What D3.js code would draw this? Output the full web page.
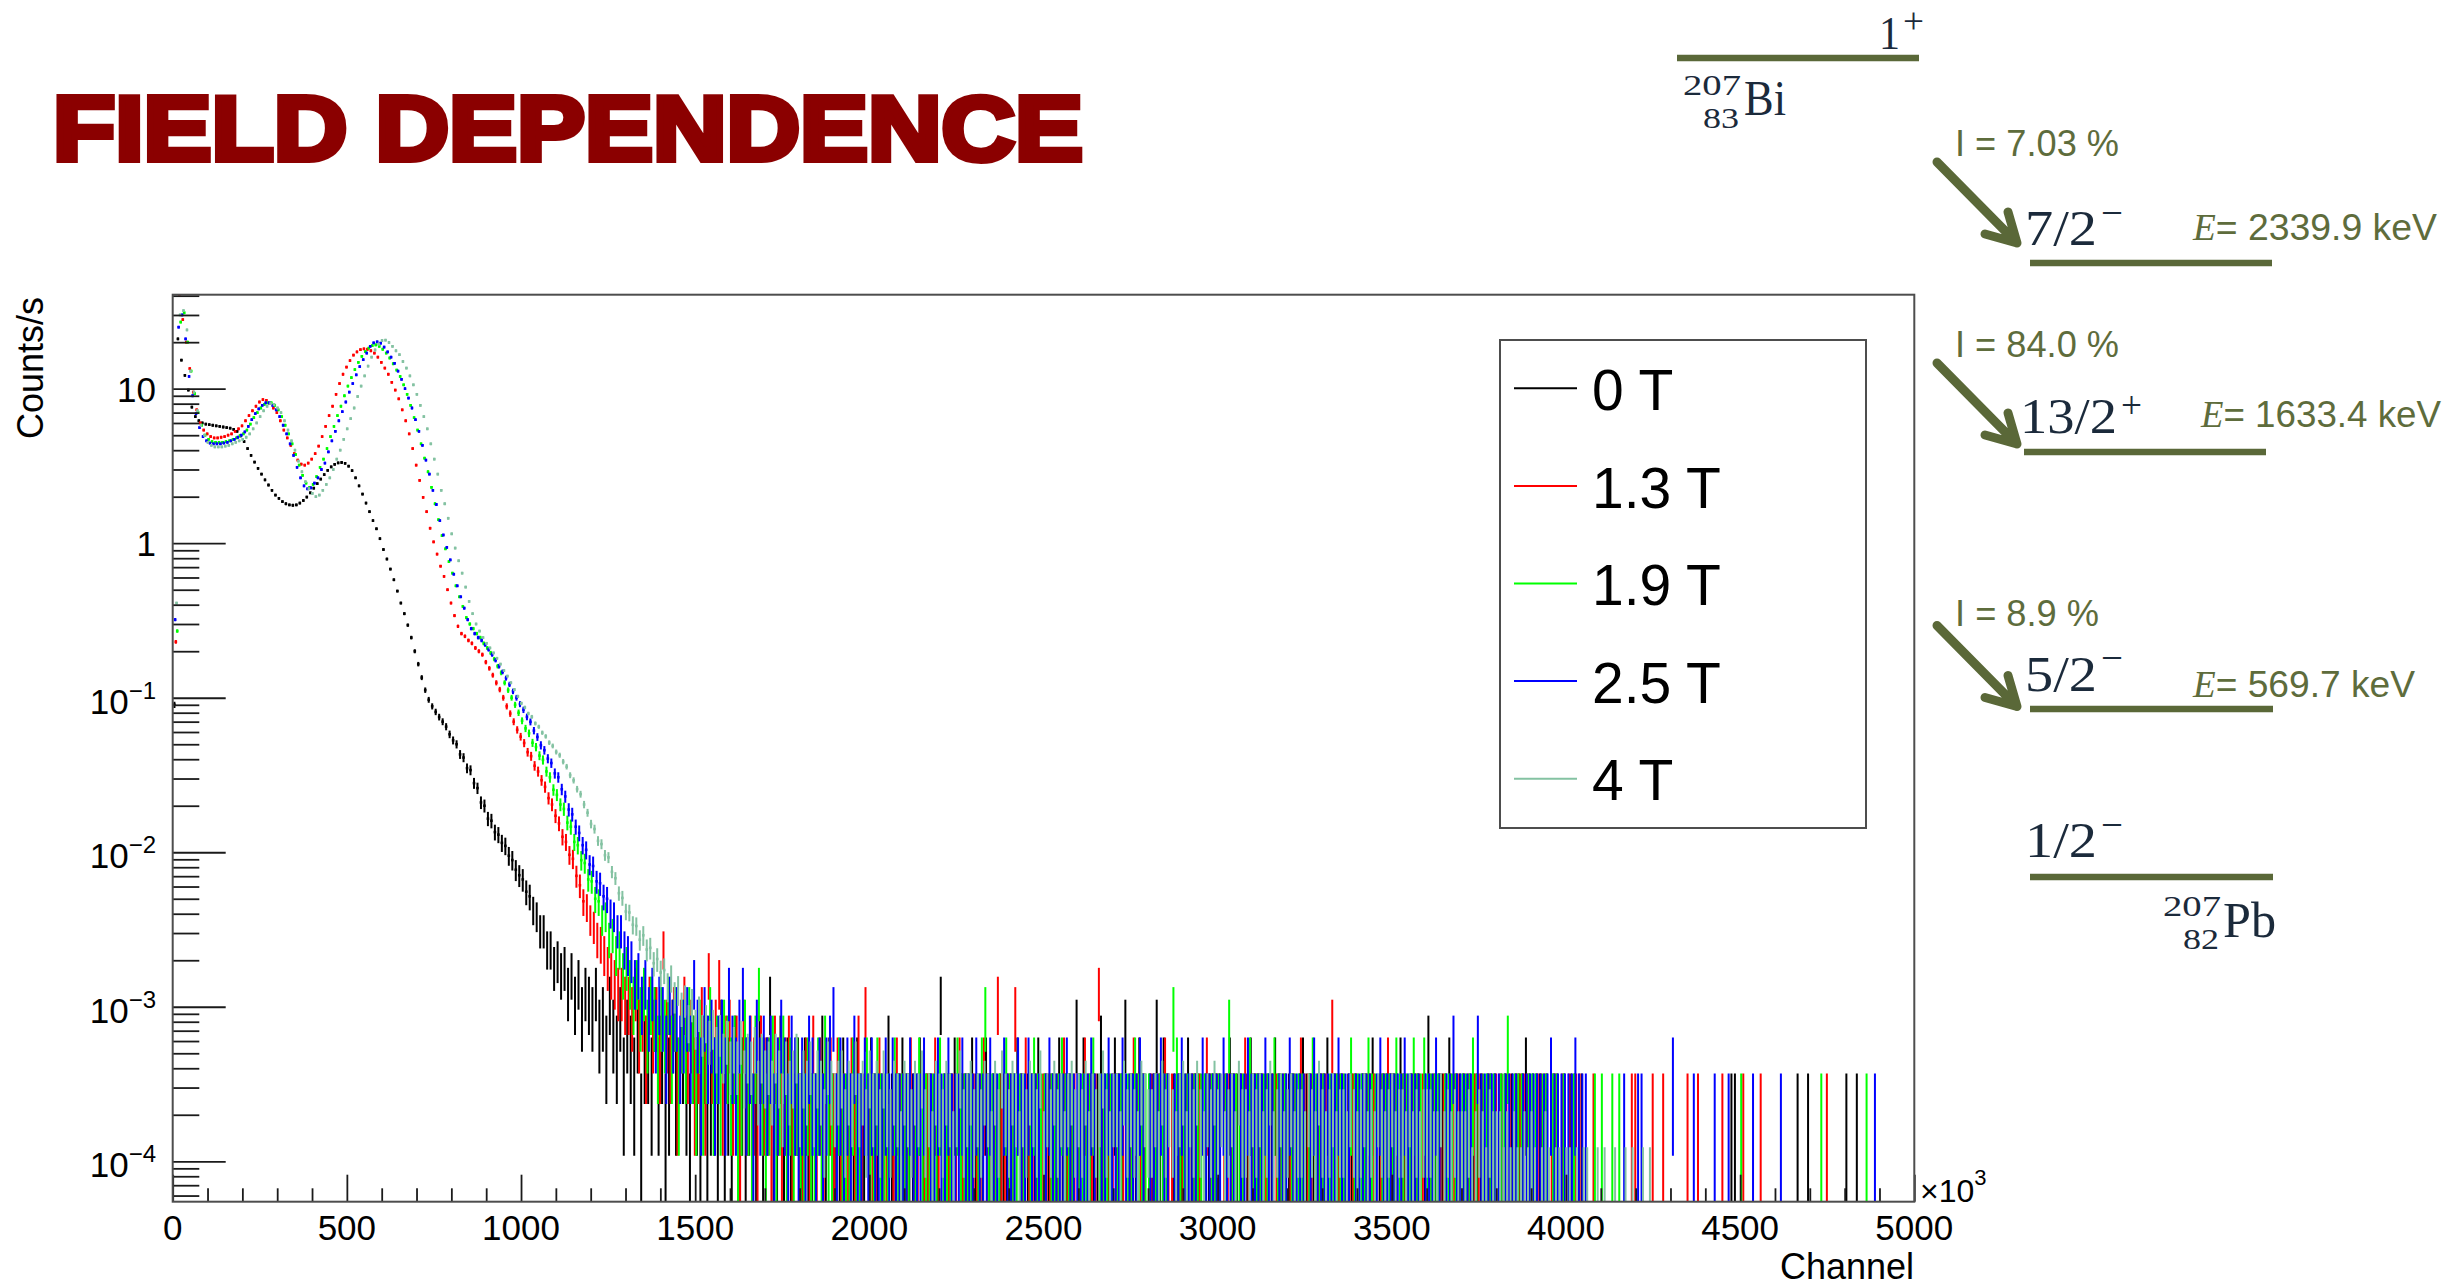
<!DOCTYPE html>
<html><head><meta charset="utf-8">
<script src="https://cdn.jsdelivr.net/npm/d3@7/dist/d3.min.js"></script>
<style>
html,body{margin:0;padding:0;background:#fff;}
svg{display:block;}
</style></head>
<body>
<svg id="chart" width="2450" height="1287" xmlns="http://www.w3.org/2000/svg"></svg>
<script>
// ================= DATA =================
const titleText = "FIELD DEPENDENCE";
const seriesNames = ["0 T","1.3 T","1.9 T","2.5 T","4 T"];
const binChannels = 10;                       // channels per histogram bin
const binOffsetChannels = [0, 4, 8, 2, 6];    // first bin lower edge of each spectrum
const liveTimeSeconds = [5400,5400,5400,5400,16200]; // counts -> counts/s
const xTickValues = [0,500,1000,1500,2000,2500,3000,3500,4000,4500,5000];
const yTickValues = [1e-4,1e-3,1e-2,1e-1,1,10];
const yTickBase = ["10","10","10","10","1","10"];
const yTickExp  = ["\u22124","\u22123","\u22122","\u22121","",""];
const xAxisTitle = "Channel";
const yAxisTitle = "Counts/s";
const xAxisMultiplier = ["\u00d710","3"];

// rates (counts/s) for bins 0..99 (channels 0-1000)
const rate_0T = [
0.09,21,15.3,12.2,9.8,7.6,6.6,6.2,6.0,5.9,
5.85,5.8,5.75,5.7,5.65,5.6,5.55,5.45,5.3,4.95,
4.55,4.1,3.7,3.35,3.05,2.8,2.57,2.38,2.2,2.05,
1.95,1.86,1.8,1.77,1.76,1.77,1.82,1.89,1.99,2.12,
2.27,2.43,2.6,2.78,2.96,3.12,3.24,3.31,3.33,3.29,
3.15,2.95,2.65,2.35,2.08,1.82,1.6,1.4,1.24,1.07,
0.91,0.79,0.68,0.58,0.49,0.41,0.35,0.295,0.245,0.2,
0.165,0.135,0.112,0.097,0.088,0.081,0.075,0.07,0.065,0.058,
0.053,0.05,0.043,0.041,0.035,0.034,0.028,0.026,0.021,0.02,
0.0165,0.016,0.0135,0.013,0.0115,0.011,0.0095,0.0089,0.0077,0.0071];
const rate_13T = [
0.23,40,28,20,13.5,9.5,7.3,6.0,5.4,5.1,
4.9,4.8,4.8,4.85,4.9,5.0,5.1,5.3,5.5,5.75,
6.2,6.7,7.2,7.7,8.2,8.5,8.4,8.0,7.5,7.0,
6.2,5.4,4.8,4.3,3.8,3.45,3.25,3.2,3.3,3.5,
3.8,4.25,4.9,5.7,6.7,7.7,9.2,10.8,12.4,13.8,
15.2,16.5,17.3,17.9,18.1,18.0,17.6,17.0,16.0,14.8,
13.6,12.4,11.0,9.8,8.6,7.3,6.2,5.1,4.1,3.2,
2.55,1.98,1.6,1.25,1.02,0.85,0.71,0.61,0.5,0.41,
0.34,0.29,0.26,0.25,0.235,0.225,0.21,0.2,0.19,0.17,
0.155,0.14,0.125,0.113,0.1,0.088,0.079,0.07,0.062,0.056];
const rate_19T = [
0.27,27,31,20,13,9.3,7.0,5.8,5.0,4.7,
4.55,4.5,4.5,4.5,4.55,4.6,4.7,4.8,4.95,5.1,
5.4,5.9,6.5,7.0,7.5,7.9,8.1,8.1,7.8,7.3,
6.6,5.8,5.1,4.4,3.75,3.2,2.75,2.45,2.3,2.4,
2.7,3.1,3.5,4.1,4.9,5.7,6.7,7.7,9.0,10.4,
11.8,13.3,14.8,16.2,17.4,18.3,19.0,19.2,18.8,18.0,
17.0,15.8,14.5,13.2,12.0,10.6,9.2,7.8,6.5,5.4,
4.4,3.55,2.9,2.3,1.8,1.42,1.12,0.92,0.76,0.64,
0.53,0.45,0.39,0.33,0.3,0.28,0.26,0.245,0.225,0.21,
0.195,0.178,0.16,0.145,0.125,0.112,0.1,0.09,0.08,0.071];
const rate_25T = [
0.32,25,30,21,12,9.0,6.9,5.6,4.9,4.6,
4.45,4.4,4.4,4.4,4.45,4.5,4.6,4.7,4.85,5.0,
5.25,5.7,6.3,6.9,7.4,7.8,8.1,8.1,7.8,7.3,
6.6,5.8,5.1,4.4,3.7,3.1,2.65,2.35,2.25,2.28,
2.45,2.65,3.0,3.3,3.9,4.6,5.3,6.2,7.1,8.2,
9.5,10.8,12.3,13.9,15.4,17.0,18.8,19.8,20.1,19.7,
18.6,17.3,16.0,14.6,13.0,11.5,10.0,8.7,7.5,6.3,
5.3,4.3,3.45,2.8,2.2,1.78,1.4,1.13,0.94,0.78,
0.63,0.53,0.45,0.38,0.32,0.28,0.26,0.245,0.235,0.22,
0.205,0.19,0.175,0.16,0.147,0.134,0.122,0.11,0.1,0.091];
const rate_4T = [
0.41,30,32,24,13,9.5,7.2,5.8,5.0,4.5,
4.3,4.2,4.2,4.2,4.25,4.3,4.4,4.5,4.6,4.7,
4.85,5.1,5.5,6.0,6.6,7.2,7.7,8.0,7.9,7.5,
7.0,6.2,5.4,4.6,4.0,3.4,2.9,2.5,2.25,2.1,
2.0,2.05,2.2,2.4,2.65,3.0,3.5,4.0,4.7,5.5,
6.4,7.5,8.9,10.4,12.1,14.0,16.0,17.8,19.4,20.5,
20.6,19.9,18.8,17.6,16.6,15.0,13.6,12.1,10.6,9.2,
7.8,6.6,5.5,4.4,3.5,2.8,2.2,1.8,1.45,1.15,
0.93,0.77,0.64,0.52,0.42,0.35,0.3,0.27,0.245,0.225,
0.21,0.195,0.18,0.165,0.15,0.138,0.125,0.113,0.102,0.092];

// raw counts per bin for bins 100..499 (channels 1000-5000)
const counts_0T = [
36,30,28,23,21,17,17,13,13,10, 11,9,10,7,9,6,8,5,7,6, 5,7,4,5,3,6,4,3,5,2, 4,3,2,4,1,3,3,2,5,2, 3,1,2,4,2,0,3,2,1,3,
2,1,3,1,2,2,1,4,1,2, 1,3,1,2,1,2,0,1,3,1, 2,6,1,1,3,1,2,1,0,2, 1,2,1,1,1,0,3,1,2,1, 1,1,2,0,1,1,2,1,1,0,
2,1,1,1,0,3,1,1,1,2, 1,1,1,0,2,1,1,1,0,1, 6,1,1,1,2,0,1,1,1,2, 1,0,1,2,1,1,0,1,1,1, 1,1,2,1,0,1,1,1,2,0,
1,1,1,0,2,1,1,1,0,4, 1,2,0,1,1,1,3,1,1,0, 2,1,1,4,0,1,1,2,1,0, 1,1,4,1,2,1,0,1,1,1, 0,2,1,1,1,0,1,1,1,1,
1,0,1,2,1,1,1,0,1,2, 1,1,1,0,1,1,2,1,0,1, 1,1,0,1,2,1,1,1,0,1, 1,2,0,1,1,1,0,1,1,1, 0,1,1,1,2,0,1,1,1,1,
1,1,2,1,0,1,1,1,0,1, 3,0,1,1,1,1,2,0,1,1, 1,0,1,1,1,1,0,1,1,1, 0,1,1,0,1,1,1,1,2,1, 1,1,1,0,1,0,1,1,0,1,
0,1,1,0,1,0,0,0,0,0, 0,0,0,0,0,0,0,0,0,0, 0,0,0,0,0,0,0,0,0,0, 0,0,0,0,0,0,0,0,0,0, 0,0,0,0,0,0,0,1,1,0,
0,0,0,0,0,0,0,0,0,0, 0,0,0,0,0,0,1,0,0,1, 0,0,0,0,0,0,0,0,0,0, 1,0,0,1,0,0,0,0,0,0, 0,0,0,0,0,0,0,0,0,0];
const counts_13T = [
275,240,226,196,180,158,143,121,110,93, 83,68,63,52,49,38,33,26,24,20, 18,15,14,12,10,9,8,7,7,6, 6,5,7,4,5,3,6,4,5,3, 13,4,3,5,2,4,6,3,4,2,
3,5,2,9,3,4,8,2,3,4, 2,3,1,4,2,3,2,1,3,2, 2,1,3,2,1,2,3,1,2,1, 1,2,1,3,1,2,1,0,2,1, 2,1,1,1,2,1,3,1,5,1,
1,1,2,1,1,0,1,2,1,1, 1,2,1,1,0,1,1,1,2,1, 0,1,1,1,1,2,1,1,0,1, 1,1,2,1,0,1,6,1,1,1, 1,5,0,1,2,1,1,1,0,1,
1,1,1,1,0,2,1,1,1,1, 0,2,1,1,1,7,1,0,1,1, 1,1,1,0,1,2,1,1,1,0, 1,1,1,0,2,1,1,0,1,1, 1,0,1,1,1,0,2,1,1,1,
0,1,1,1,1,0,1,2,1,1, 1,1,1,1,0,1,1,1,1,0, 1,1,0,2,1,1,1,0,1,1, 1,0,4,1,1,1,0,1,1,1, 0,1,1,1,1,0,1,1,2,1,
1,0,1,1,0,1,1,1,1,0, 1,1,0,1,1,0,1,1,1,0, 1,1,0,1,1,1,0,1,0,1, 1,0,1,1,0,1,1,1,1,0, 0,1,1,1,0,1,1,0,1,0,
1,0,1,1,0,0,0,1,0,0, 0,0,0,0,0,0,0,0,1,1, 0,0,0,0,1,0,0,1,0,0, 0,0,0,0,1,0,0,1,0,0, 0,0,0,0,1,0,0,0,0,0,
1,0,0,0,0,1,0,0,0,0, 0,0,0,0,0,0,0,0,0,0, 0,0,0,0,1,0,0,0,0,0, 0,0,0,0,0,0,0,0,0,0, 0,0,0,0,0,0,0,0,0,0];
const counts_19T = [
342,318,276,259,228,214,180,165,137,127, 110,103,84,79,63,60,48,46,36,35, 27,26,20,21,15,16,12,13,9,10, 8,6,8,5,7,4,6,5,3,5, 4,6,3,5,2,4,3,5,3,2,
4,2,3,5,2,3,2,4,3,2, 3,1,2,4,2,1,3,7,2,1, 2,3,1,2,3,1,2,1,2,1, 1,2,1,1,2,1,3,1,1,0, 2,1,1,1,2,1,1,0,2,1,
1,2,1,1,1,0,2,1,1,1, 1,0,1,2,1,1,1,1,1,2, 1,1,1,0,2,1,1,1,1,0, 1,2,5,1,1,1,1,0,2,1, 1,1,1,1,0,1,2,1,1,1,
0,1,1,1,2,1,1,1,0,1, 1,1,1,2,0,1,1,1,1,0, 1,1,0,1,1,2,1,1,1,1, 0,1,1,1,1,0,5,2,1,1, 1,0,1,1,1,1,0,1,1,1,
0,1,4,1,1,1,1,0,2,1, 1,1,1,1,0,2,1,1,1,0, 1,1,1,1,0,1,2,1,1,1, 0,1,1,1,1,1,0,2,1,1, 1,1,2,1,1,0,1,1,1,1,
2,1,1,1,1,2,1,1,2,1, 1,1,1,0,1,1,1,1,0,1, 1,1,2,1,0,1,1,1,1,0, 1,1,3,0,1,1,1,0,1,1, 1,0,1,1,0,1,1,0,1,0,
0,1,0,0,0,0,0,1,0,1, 0,0,1,0,1,0,0,0,0,0, 0,0,0,0,0,0,0,0,0,0, 0,0,0,0,0,0,0,0,0,0, 0,0,0,0,0,0,0,0,0,1,
0,0,0,0,0,0,0,0,0,0, 0,0,0,0,0,0,0,0,0,0, 0,0,1,0,0,0,0,0,0,0, 0,0,0,0,0,1,0,0,0,0, 0,0,0,0,0,0,0,0,0,0];
const counts_25T = [
451,406,377,331,301,266,247,218,204,175, 165,138,124,102,95,79,72,60,56,45, 44,35,34,28,27,22,21,17,17,13, 12,11,8,9,6,8,5,7,4,6, 5,3,6,4,5,3,4,5,3,8,
4,2,5,3,4,2,3,4,2,7, 3,2,4,7,2,3,1,4,2,3, 2,3,1,2,4,2,1,3,2,1, 2,1,3,2,1,2,1,2,3,5, 1,2,1,2,1,3,1,1,2,1,
2,1,1,1,2,1,2,1,1,1, 1,2,1,1,1,2,0,1,1,2, 1,1,2,1,1,1,2,1,1,1, 2,1,1,1,2,1,1,0,2,1, 1,1,2,1,1,2,1,1,1,0,
1,2,1,1,1,1,2,1,1,1, 1,1,1,2,1,0,1,1,2,1, 1,1,2,1,1,1,1,2,1,0, 1,1,1,2,1,1,0,1,1,2, 1,1,1,1,0,2,1,1,1,1,
1,2,1,1,1,0,1,1,2,1, 1,1,1,2,1,1,0,1,1,1, 2,1,1,1,1,0,1,2,1,1, 1,1,1,1,2,1,1,1,0,1, 1,1,1,1,0,1,2,1,1,1,
1,1,1,2,1,1,1,1,0,1, 1,1,2,1,0,1,1,3,1,1, 1,1,1,0,3,1,1,1,1,1, 1,0,1,1,1,1,0,1,1,1, 1,1,1,1,1,2,1,1,1,1,
1,1,2,1,1,1,0,0,0,0, 0,0,0,0,0,0,1,0,0,0, 1,1,0,0,0,0,0,0,0,0, 2,0,0,0,0,0,1,0,0,0, 0,0,1,0,0,0,1,0,0,0,
0,0,0,1,0,0,0,0,0,0, 0,1,0,0,0,0,0,0,0,0, 0,0,0,0,0,0,0,0,0,0, 0,0,0,0,0,0,0,0,1,0, 0,0,0,0,0,0,0,0,0,0];
const counts_4T = [
1402,1280,1219,1105,1051,962,911,830,790,722, 688,625,580,511,473,415,385,330,292,247, 229,192,183,155,150,121,110,88,82,67, 66,55,54,44,47,38,39,31,33,27,
28,22,25,19,21,16,18,13,17,12, 15,11,13,10,12,9,11,8,10,7, 9,7,10,6,8,7,9,5,8,6, 7,5,8,6,4,7,5,6,8,4,
6,5,7,4,6,5,3,7,5,4, 5,6,3,5,4,7,4,5,3,6, 4,5,3,6,4,3,5,4,2,5, 4,3,5,4,6,3,4,2,5,4,
3,5,4,2,4,6,3,4,5,3, 4,3,5,4,2,5,3,6,4,3, 5,4,2,4,3,5,4,3,6,2, 4,3,5,3,4,2,4,5,3,4,
3,5,2,4,3,4,6,3,2,4, 4,2,5,3,4,3,2,5,4,3, 3,4,2,5,3,4,3,2,4,5, 2,4,3,5,3,2,4,3,5,3,
4,2,3,4,2,5,3,3,2,4, 3,4,2,3,5,2,3,4,2,3, 4,2,3,3,2,4,3,2,5,3, 2,3,4,2,3,3,2,4,3,2,
3,4,2,3,2,4,3,2,3,4, 2,3,3,2,4,2,3,2,3,3, 3,2,2,4,2,3,2,3,2,2, 2,3,1,2,3,2,1,3,2,2,
2,1,2,1,2,1,1,2,1,2, 1,0,1,2,1,0,1,1,0,1, 1,0,1,0,1,1,0,0,1,0, 1,0,0,1,0,0,1,0,1,0,
0,1,0,1,0,0,0,0,0,0, 0,0,0,0,0,0,0,0,0,0, 0,0,0,0,0,0,0,0,0,0, 0,0,0,0,0,0,0,0,0,0,
0,0,0,0,0,0,0,0,0,0, 0,0,0,0,0,0,0,0,0,0, 0,0,0,0,0,0,0,0,0,0, 0,0,0,0,0,0,0,0,0,0];

// decay scheme annotation data (207Bi -> 207Pb)
const parentNuclide = ["207","83","Bi"];
const daughterNuclide = ["207","82","Pb"];
const levelSpin = ["1","7/2","13/2","5/2","1/2"];
const levelParity = ["+","\u2212","+","\u2212","\u2212"];
const levelEnergy = ["","2339.9","1633.4","569.7",""];
const branchIntensity = ["7.03","84.0","8.9"];

// ================= LAYOUT / STYLE =================
const SANS = "'Liberation Sans', Arial, Helvetica, sans-serif";
const NARROW = "'Liberation Sans Narrow','Arial Narrow','Liberation Sans',sans-serif";
const SERIF = "'Liberation Serif','Times New Roman',serif";
const colors = ["#000000","#ff0000","#00ff00","#0000ff","#84c2a2"];
const frame = {left:172.7, right:1914.3, top:294.7, bottom:1201.7};
const yRange = [5.475e-5, 40.58];
const xRange = [0, 5000];

const svg = d3.select("#chart").attr("font-family", SANS);
svg.append("rect").attr("width",2450).attr("height",1287).attr("fill","#fff");

const x = d3.scaleLinear().domain(xRange).range([frame.left, frame.right]);
const y = d3.scaleLog().domain(yRange).range([frame.bottom, frame.top]);

// ---- title
svg.append("text").attr("x",53).attr("y",160)
  .attr("font-size",91).attr("font-weight","bold")
  .attr("fill","#8b0000").attr("stroke","#8b0000").attr("stroke-width",6).attr("stroke-linejoin","miter")
  .attr("textLength",1030).attr("lengthAdjust","spacingAndGlyphs")
  .text(titleText);

// ---- data
svg.append("defs").append("clipPath").attr("id","plotClip").append("rect")
  .attr("x",frame.left).attr("y",frame.top)
  .attr("width",frame.right-frame.left).attr("height",frame.bottom-frame.top);
const plot = svg.append("g").attr("clip-path","url(#plotClip)");

const rates = [rate_0T, rate_13T, rate_19T, rate_25T, rate_4T];
const counts = [counts_0T, counts_13T, counts_19T, counts_25T, counts_4T];

seriesNames.forEach((name, si) => {
  const T = liveTimeSeconds[si];
  const o = binOffsetChannels[si];
  const bins = [];
  rates[si].forEach((r,i) => bins.push({ch:o+(i+0.5)*binChannels, n:r*T}));
  const off = rates[si].length;
  counts[si].forEach((n,j) => bins.push({ch:o+(off+j+0.5)*binChannels, n:n}));
  const pts = bins.filter(b => b.n > 0).map(b => {
    const v = b.n/T, e = Math.sqrt(b.n)/T;
    const yv = y(v);
    let y1 = y(v+e);
    let y2 = (v-e) > 0 ? Math.min(y(v-e), frame.bottom+10) : frame.bottom+10;
    if (y2 - y1 < 2.8) { y1 = yv-1.4; y2 = yv+1.4; }
    return {x:x(b.ch), y1, y2, yv, n:b.n};
  });
  const g = plot.append("g").attr("stroke", colors[si]).attr("fill", colors[si]);
  g.selectAll("line").data(pts).join("line")
    .attr("x1",d=>d.x).attr("x2",d=>d.x)
    .attr("y1",d=>d.y1).attr("y2",d=>d.y2)
    .attr("stroke-width",2);
  g.selectAll("rect").data(pts.filter(d=>d.n>25)).join("rect")
    .attr("x",d=>d.x-1.3).attr("y",d=>d.yv-1.3).attr("width",2.6).attr("height",2.6)
    .attr("stroke","none");
});

// ---- axes (ticks inside, ROOT style)
const axisG = svg.append("g");
const yMinor = [];
for (let p=-5; p<=1; p++) for (let m=2; m<=9; m++) { const v=m*Math.pow(10,p); if (v>yRange[0] && v<yRange[1]) yMinor.push(v); }
const xMinor = d3.range(0,5001,100).filter(v => v%500 !== 0);

function styleAxis(sel){ sel.select(".domain").remove(); sel.selectAll(".tick line").attr("stroke","#1a1a1a").attr("stroke-width",1.8); sel.selectAll(".tick text").remove(); }
axisG.append("g").attr("transform",`translate(${frame.left},0)`)
  .call(d3.axisLeft(y).tickValues(yMinor).tickSize(-26.6).tickFormat("")).call(styleAxis);
axisG.append("g").attr("transform",`translate(${frame.left},0)`)
  .call(d3.axisLeft(y).tickValues(yTickValues).tickSize(-53).tickFormat("")).call(styleAxis);
axisG.append("g").attr("transform",`translate(0,${frame.bottom})`)
  .call(d3.axisBottom(x).tickValues(xMinor).tickSize(-13.4).tickFormat("")).call(styleAxis);
axisG.append("g").attr("transform",`translate(0,${frame.bottom})`)
  .call(d3.axisBottom(x).tickValues(xTickValues).tickSize(-27).tickFormat("")).call(styleAxis);

// frame
svg.append("rect").attr("x",frame.left).attr("y",frame.top)
  .attr("width",frame.right-frame.left).attr("height",frame.bottom-frame.top)
  .attr("fill","none").attr("stroke","#4d4d4d").attr("stroke-width",2);

// y labels
yTickValues.forEach((v,i) => {
  const t = axisG.append("text").attr("x",156).attr("text-anchor","end").attr("font-size",35).attr("fill","#000");
  if (yTickExp[i]) {
    t.attr("y", y(v)+16);
    t.append("tspan").text(yTickBase[i]);
    t.append("tspan").attr("font-size",24).attr("dy",-15).text(yTickExp[i]);
  } else {
    t.attr("y", y(v)+13).text(yTickBase[i]);
  }
});
// x labels
xTickValues.forEach(v => {
  axisG.append("text").attr("x",x(v)).attr("y",1240).attr("text-anchor","middle")
    .attr("font-size",35).attr("fill","#000").text(v);
});
// x multiplier
const mult = axisG.append("text").attr("x",1920).attr("y",1202).attr("font-size",32).attr("fill","#000");
mult.append("tspan").text(xAxisMultiplier[0]);
mult.append("tspan").attr("font-size",22).attr("dy",-17).text(xAxisMultiplier[1]);
// axis titles
axisG.append("text").attr("x",1914).attr("y",1279).attr("text-anchor","end").attr("font-size",36).text(xAxisTitle);
axisG.append("text").attr("transform","translate(43,297) rotate(-90)").attr("text-anchor","end").attr("font-size",36).text(yAxisTitle);

// ---- legend
const legend = svg.append("g");
legend.append("rect").attr("x",1500).attr("y",340).attr("width",366).attr("height",488)
  .attr("fill","#fff").attr("stroke","#4d4d4d").attr("stroke-width",2);
seriesNames.forEach((name,i) => {
  const ly = 388.3 + i*97.6;
  legend.append("line").attr("x1",1514).attr("x2",1577).attr("y1",ly).attr("y2",ly)
    .attr("stroke",colors[i]).attr("stroke-width",2);
  legend.append("text").attr("x",1592).attr("y",ly+21.7).attr("font-size",57).attr("fill","#000").text(name);
});

// ---- decay scheme annotation
const OLIVE = "#5a6838", OLIVE_T = "#5e6c3c", NAVY = "#1b2a3b";
const ds = svg.append("g");
const levelLayout = [
  {x1:1677,x2:1919,y:58},
  {x1:2030,x2:2272,y:263},
  {x1:2024,x2:2266,y:452},
  {x1:2030,x2:2273,y:709},
  {x1:2030,x2:2273,y:877}];
levelLayout.forEach(l => ds.append("line").attr("x1",l.x1).attr("x2",l.x2).attr("y1",l.y).attr("y2",l.y)
  .attr("stroke",OLIVE).attr("stroke-width",6.5));

const spinLayout = [
  {x:1879,y:49,len:21, sx:1903,sy:33,slen:21,sfs:35},
  {x:2025,y:245,len:72, sx:2101,sy:226,slen:22,sfs:40},
  {x:2020,y:433,len:97, sx:2121,sy:418,slen:21,sfs:38},
  {x:2025,y:691,len:72, sx:2101,sy:671,slen:22,sfs:40},
  {x:2025,y:857,len:72, sx:2101,sy:838,slen:22,sfs:40}];
levelSpin.forEach((s,i) => {
  const L = spinLayout[i];
  const t = ds.append("text").attr("font-family",SERIF).attr("fill",NAVY);
  t.append("tspan").attr("x",L.x).attr("y",L.y).attr("font-size",i===0?46:50)
    .attr("textLength",L.len).attr("lengthAdjust","spacingAndGlyphs").text(s);
  t.append("tspan").attr("x",L.sx).attr("y",L.sy).attr("font-size",L.sfs)
    .attr("textLength",L.slen).attr("lengthAdjust","spacingAndGlyphs").text(levelParity[i]);
});

const energyLayout = [null,{x:2193,y:240,len:244},{x:2201,y:427,len:240},{x:2193,y:697,len:222},null];
levelEnergy.forEach((e,i) => {
  const L = energyLayout[i]; if (!L || !e) return;
  const t = ds.append("text").attr("x",L.x).attr("y",L.y).attr("font-size",37).attr("fill",OLIVE_T)
    .attr("textLength",L.len).attr("lengthAdjust","spacingAndGlyphs");
  t.append("tspan").attr("font-family",SERIF).attr("font-style","italic").text("E");
  t.append("tspan").attr("font-family",NARROW).text("= " + e + " keV");
});

const intensityLayout = [{x:1955,y:156,len:164},{x:1955,y:357,len:164},{x:1955,y:626,len:144}];
const arrowOffsets = [0, 201, 463.5];
branchIntensity.forEach((b,i) => {
  const L = intensityLayout[i];
  ds.append("text").attr("x",L.x).attr("y",L.y).attr("font-family",NARROW).attr("font-size",37)
    .attr("fill",OLIVE_T).attr("textLength",L.len).attr("lengthAdjust","spacingAndGlyphs")
    .text("I = " + b + " %");
  const dy = arrowOffsets[i];
  const p = d3.path();
  p.moveTo(1937,162+dy); p.lineTo(2017,243+dy);
  p.moveTo(1985,234+dy); p.lineTo(2017,243+dy); p.lineTo(2008,212+dy);
  ds.append("path").attr("d",p.toString()).attr("fill","none").attr("stroke",OLIVE)
    .attr("stroke-width",9).attr("stroke-linecap","round").attr("stroke-linejoin","round");
});

// nuclide labels (mass number, atomic number, symbol)
function nuclide(arr, bx, by, ax, ay, zx, zy, lens){
  const t = ds.append("text").attr("font-family",SERIF).attr("fill",NAVY);
  t.append("tspan").attr("x",ax).attr("y",ay).attr("font-size",30)
    .attr("textLength",lens[0]).attr("lengthAdjust","spacingAndGlyphs").text(arr[0]);
  t.append("tspan").attr("x",zx).attr("y",zy).attr("font-size",30)
    .attr("textLength",lens[1]).attr("lengthAdjust","spacingAndGlyphs").text(arr[1]);
  t.append("tspan").attr("x",bx).attr("y",by).attr("font-size",50)
    .attr("textLength",lens[2]).attr("lengthAdjust","spacingAndGlyphs").text(arr[2]);
}
nuclide(parentNuclide, 1744,115, 1683,95, 1703,128, [58,36,42]);
nuclide(daughterNuclide, 2223,937, 2163,916, 2183,949, [58,36,53]);
</script>
</body></html>
